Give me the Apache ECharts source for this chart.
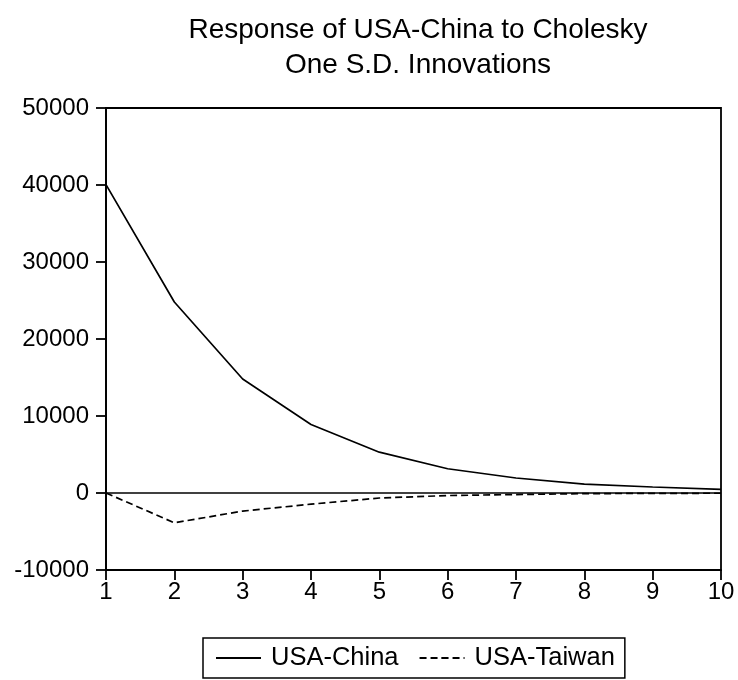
<!DOCTYPE html>
<html>
<head>
<meta charset="utf-8">
<script src="https://cdn.jsdelivr.net/npm/echarts@6/dist/echarts.min.js"></script>
<style>
  html, body { margin: 0; padding: 0; background: #fff; }
  #chart { width: 738px; height: 680px; }
</style>
</head>
<body>
<div id="chart"></div>
<script>
// Impulse response periods
const periods = ['1', '2', '3', '4', '5', '6', '7', '8', '9', '10'];
// Response of USA-China to a one S.D. shock in USA-China
const usaChina = [40050, 24800, 14800, 8900, 5300, 3150, 1950, 1150, 780, 460];
// Response of USA-China to a one S.D. shock in USA-Taiwan
const usaTaiwan = [0, -3870, -2350, -1450, -650, -330, -200, -80, -50, -30];
// Value axis ticks
const yTicks = [-10000, 0, 10000, 20000, 30000, 40000, 50000];

const FONT = '"Liberation Sans", Arial, sans-serif';
const chart = echarts.init(document.getElementById('chart'), null, { renderer: 'canvas' });

chart.setOption({
  backgroundColor: '#fff',
  animation: false,
  title: {
    text: 'Response of USA-China to Cholesky\nOne S.D. Innovations',
    left: 413,
    textAlign: 'center',
    top: 8,
    textStyle: { fontFamily: FONT, fontSize: 28, fontWeight: 'normal', color: '#000', lineHeight: 35 }
  },
  grid: {
    left: 106, right: 17, top: 108, bottom: 110,
    show: true, borderColor: '#000', borderWidth: 1.8
  },
  legend: {
    bottom: 2,
    left: 203,
    data: ['USA-China', 'USA-Taiwan'],
    itemWidth: 45,
    itemHeight: 2,
    itemGap: 20,
    borderColor: '#000',
    borderWidth: 1.5,
    padding: [7, 10, 7, 12],
    textStyle: { fontFamily: FONT, fontSize: 25.5, color: '#000', padding: [0, 0, 0, 5] }
  },
  xAxis: {
    type: 'category',
    data: periods,
    boundaryGap: false,
    axisLine: { onZero: false, lineStyle: { color: '#000', width: 1.8 } },
    axisTick: { show: true, length: 10, inside: false, lineStyle: { color: '#000', width: 1.8 } },
    axisLabel: { fontFamily: FONT, fontSize: 24, color: '#000', margin: 10 },
    splitLine: { show: false }
  },
  yAxis: {
    type: 'value',
    min: yTicks[0],
    max: yTicks[yTicks.length - 1],
    interval: 10000,
    axisLine: { show: true, lineStyle: { color: '#000', width: 1.8 } },
    axisTick: { show: true, length: 10, lineStyle: { color: '#000', width: 1.8 } },
    axisLabel: {
      fontFamily: FONT, fontSize: 24, color: '#000', margin: 17,
      formatter: v => String(v)
    },
    splitLine: { show: false }
  },
  series: [
    {
      name: 'USA-China',
      type: 'line',
      data: usaChina,
      symbol: 'none',
      lineStyle: { color: '#000', width: 1.7, type: 'solid' },
      itemStyle: { color: '#000' },
      markLine: {
        silent: true,
        symbol: 'none',
        label: { show: false },
        lineStyle: { color: '#000', width: 1.7, type: 'solid' },
        data: [{ yAxis: 0 }]
      }
    },
    {
      name: 'USA-Taiwan',
      type: 'line',
      data: usaTaiwan,
      symbol: 'none',
      lineStyle: { color: '#000', width: 1.7, type: [7, 4] },
      itemStyle: { color: '#000' }
    }
  ]
});
</script>
</body>
</html>
